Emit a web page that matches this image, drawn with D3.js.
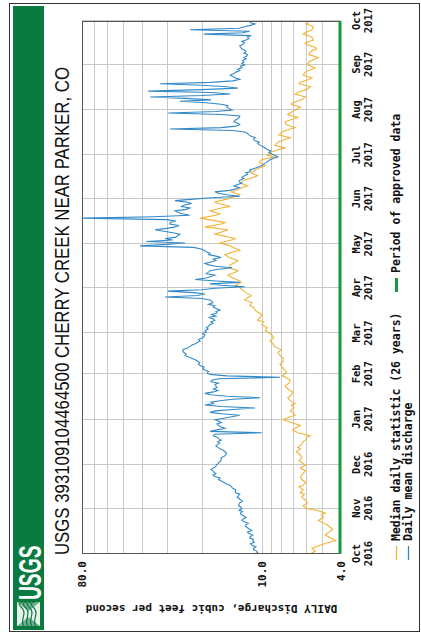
<!DOCTYPE html>
<html>
<head>
<meta charset="utf-8">
<script src="https://cdn.jsdelivr.net/npm/d3@7"></script>
<style>
  html, body { margin: 0; padding: 0; background: #fff; }
  svg { display: block; }
</style>
</head>
<body>
<svg id="chart" width="421" height="636"></svg>
<script>
// ---- data -------------------------------------------------------------
const stationTitle = "USGS 393109104464500 CHERRY CREEK NEAR PARKER, CO";
const yAxisTitle = "DAILY Discharge, cubic feet per second";
const periodStart = "2016-10-01";
const periodEnd = "2017-10-01";
const monthLabels = ["Oct 2016", "Nov 2016", "Dec 2016", "Jan 2017", "Feb 2017", "Mar 2017",
  "Apr 2017", "May 2017", "Jun 2017", "Jul 2017", "Aug 2017", "Sep 2017", "Oct 2017"];
const valueTicks = [4, 10, 80];
const valueGrid = [5, 6, 7, 8, 9, 10, 20, 30, 40, 50, 60, 70];
const legendLabels = ["Median daily statistic (26 years)", "Daily mean discharge", "Period of approved data"];

// daily mean discharge, [day of water year, cfs]
const dailyMean = [
  [0,10.8],[1,10.5],[2,10.6],[3,11.0],[4,11.0],[5,10.7],[6,11.2],[7,11.4],[8,10.9],[9,11.1],
  [10,11.0],[11,11.5],[12,11.4],[13,11.1],[14,11.6],[15,11.8],[16,11.2],[17,11.5],[18,11.8],[19,12.1],
  [20,12.0],[21,11.7],[22,12.2],[23,12.6],[24,12.4],[25,12.0],[26,12.3],[27,12.7],[28,12.8],[29,12.5],
  [30,13.0],[31,12.6],[32,12.7],[33,13.1],[35,12.9],[36,12.5],[38,13.0],[39,13.3],[41,12.9],[42,13.6],
  [44,13.5],[45,14.0],[47,14.4],[48,15.0],[49,15.5],[50,16.0],[51,16.5],[52,16.2],[53,17.2],[54,17.6],
  [55,17.0],[56,17.4],[57,17.6],[58,18.0],[59,17.4],[60,17.0],[61,16.9],[62,16.5],[63,16.4],[64,16.0],
  [66,16.0],[67,15.4],[69,15.0],[70,15.3],[71,15.6],[72,16.2],[73,16.6],[74,17.0],[76,16.3],[77,16.6],
  [78,16.0],[79,16.5],[80,16.8],[81,17.5],[82,17.2],[83,10.0],[84,18.2],[85,16.8],[86,15.3],[87,16.0],
  [88,16.5],[89,16.8],[90,16.0],[91,16.5],[92,17.2],[93,15.5],[95,12.9],[96,16.0],[97,18.2],[98,17.0],
  [99,14.0],[100,10.8],[101,16.0],[102,19.3],[103,17.5],[104,18.0],[105,16.2],[106,14.0],[107,10.2],[108,15.0],
  [109,18.0],[110,19.3],[111,17.5],[112,16.6],[113,17.5],[114,16.8],[116,17.2],[117,16.5],[118,18.0],[119,17.8],
  [120,16.5],[121,8.1],[122,15.0],[123,18.2],[124,18.8],[125,18.5],[126,19.3],[127,19.8],[128,19.5],[129,20.4],
  [130,20.8],[131,20.5],[132,21.0],[133,21.6],[134,22.5],[135,23.5],[136,24.3],[137,24.0],[138,24.6],[139,25.0],
  [140,24.8],[141,23.6],[142,23.0],[143,22.5],[144,21.6],[145,21.0],[146,20.4],[147,20.8],[148,19.8],[149,19.5],
  [150,19.3],[151,19.8],[152,19.0],[153,19.3],[154,18.6],[155,19.0],[156,18.5],[157,18.2],[158,17.6],[159,18.0],
  [160,17.2],[161,17.5],[162,18.5],[163,17.0],[164,17.8],[165,16.8],[166,17.0],[167,16.2],[168,16.8],[169,17.5],
  [170,17.2],[171,18.5],[172,17.6],[173,17.8],[174,18.2],[175,20.0],[176,30.6],[177,21.0],[178,19.3],[179,22.0],
  [180,29.7],[181,20.0],[182,17.2],[183,12.2],[184,16.0],[185,18.2],[186,12.9],[187,17.0],[188,21.6],[189,19.0],
  [190,18.0],[191,17.2],[192,19.0],[193,18.5],[194,18.2],[195,16.5],[196,14.1],[197,17.0],[198,18.5],[199,19.3],
  [200,18.0],[201,17.0],[202,17.5],[203,16.0],[204,17.0],[205,18.5],[206,18.2],[207,19.0],[208,19.5],[209,20.4],
  [210,22.0],[211,40.9],[212,30.0],[213,24.3],[214,38.0],[215,28.0],[216,30.6],[217,27.0],[218,26.5],[219,25.8],
  [220,28.0],[221,31.0],[222,34.4],[223,30.0],[224,27.3],[225,26.0],[226,29.0],[227,28.9],[228,27.0],[229,30.0],
  [230,79.0],[231,35.0],[232,23.0],[233,25.0],[234,26.5],[235,27.3],[236,24.0],[237,23.0],[238,25.5],[239,24.3],
  [240,22.5],[241,24.0],[242,27.3],[243,22.0],[244,18.0],[245,12.9],[246,15.0],[247,16.5],[248,17.2],[249,14.5],
  [250,13.6],[251,13.0],[252,13.8],[253,13.2],[254,12.6],[255,13.0],[256,12.9],[257,12.3],[258,12.6],[259,12.2],
  [260,11.8],[261,12.0],[262,11.4],[263,11.5],[264,10.9],[265,10.4],[266,10.0],[267,9.8],[268,9.5],[269,9.3],
  [270,9.1],[271,8.7],[272,8.3],[273,8.6],[274,8.9],[275,9.2],[276,9.0],[277,9.4],[278,9.6],[279,9.9],
  [280,10.2],[281,10.5],[282,10.3],[283,10.8],[284,11.0],[285,10.8],[286,11.3],[287,11.6],[288,11.8],[289,12.2],
  [290,14.0],[291,28.9],[292,16.0],[293,13.5],[294,12.9],[295,13.2],[296,13.8],[297,13.6],[298,13.2],[299,13.0],
  [300,12.9],[301,16.0],[302,29.5],[303,17.0],[304,14.1],[305,14.5],[306,15.0],[307,14.8],[308,16.0],[309,19.0],
  [310,25.8],[311,18.0],[312,24.0],[313,36.4],[314,20.0],[315,14.4],[316,18.0],[317,37.2],[318,20.0],[319,13.2],
  [320,15.0],[321,20.0],[322,32.4],[323,18.0],[324,14.0],[325,12.9],[326,13.5],[327,14.0],[328,14.4],[329,13.8],
  [330,13.5],[331,12.9],[332,13.2],[333,12.6],[334,12.8],[335,12.2],[336,12.6],[337,12.3],[338,12.5],[339,12.0],
  [340,12.3],[341,11.9],[342,11.8],[343,12.3],[344,12.0],[345,12.2],[346,12.6],[347,12.8],[348,12.9],[349,12.4],
  [350,12.2],[351,12.6],[352,12.0],[353,11.6],[354,11.8],[355,11.3],[356,19.5],[357,12.5],[358,11.5],[359,23.0],
  [360,13.0],[361,12.2],[362,11.4],[363,10.8],[364,11.5]
];

// median of daily means over 26 years, [day of water year, cfs]
const dailyMedian = [
  [0,5.7],[2,5.4],[4,5.6],[6,5.1],[8,4.6],[9,4.25],[11,4.5],[13,4.8],[15,4.6],[17,4.4],
  [18,4.5],[20,4.7],[22,5.0],[23,5.2],[25,4.9],[27,5.0],[28,4.8],[30,5.3],[31,5.9],[33,6.2],
  [35,5.9],[37,6.05],[39,6.3],[41,6.1],[42,6.4],[44,6.2],[46,6.5],[47,6.2],[49,6.0],[51,6.3],
  [53,6.4],[55,6.2],[57,6.05],[59,6.4],[61,6.0],[62,6.2],[64,6.5],[66,6.3],[68,6.4],[70,6.7],
  [72,6.4],[73,6.6],[75,6.3],[77,6.2],[78,6.05],[80,5.9],[81,5.7],[83,6.6],[85,7.0],[87,6.6],
  [88,6.4],[90,7.1],[92,7.8],[94,7.2],[95,6.8],[97,7.0],[98,7.2],[100,6.9],[102,7.1],[103,6.8],
  [105,7.2],[107,7.4],[109,7.1],[111,7.0],[113,7.4],[115,7.65],[117,7.3],[119,7.2],[121,7.6],[122,7.9],
  [124,7.5],[126,7.65],[128,7.9],[130,8.1],[132,7.8],[134,7.8],[136,8.1],[138,8.3],[140,8.0],[142,8.6],
  [144,8.8],[146,9.1],[148,8.7],[150,8.9],[152,9.3],[153,9.6],[155,9.4],[157,10.0],[159,9.8],[160,10.5],
  [162,10.2],[164,10.0],[166,10.6],[167,10.8],[169,11.0],[170,11.5],[172,11.2],[174,12.2],[176,11.6],[177,11.3],
  [179,12.0],[181,12.6],[183,13.0],[184,13.6],[186,12.7],[187,12.9],[189,14.0],[191,14.8],[193,13.6],[194,13.2],
  [196,14.5],[198,14.4],[200,13.5],[201,13.2],[203,14.6],[205,15.3],[207,13.8],[208,12.9],[210,14.0],[211,14.4],
  [213,16.2],[215,14.2],[216,13.6],[218,15.8],[219,17.2],[221,15.5],[222,14.8],[224,19.3],[226,16.0],[227,15.3],
  [229,18.5],[230,20.4],[232,17.0],[233,16.2],[235,18.2],[237,16.0],[238,14.4],[240,16.5],[241,17.2],[243,15.0],
  [244,14.4],[245,13.5],[246,12.9],[248,14.2],[249,13.6],[251,12.5],[252,11.8],[254,12.8],[256,12.2],[258,11.0],
  [259,10.5],[261,11.3],[263,10.8],[265,10.0],[266,9.6],[268,10.3],[270,10.0],[272,8.6],[273,9.4],[275,9.1],
  [277,8.2],[278,7.65],[280,8.6],[282,8.3],[284,7.6],[285,7.2],[287,8.2],[289,7.9],[291,7.2],[292,6.8],
  [294,7.5],[296,7.65],[298,6.9],[299,6.6],[301,7.4],[302,7.2],[304,6.8],[306,6.4],[308,7.1],[309,7.0],
  [311,6.3],[313,6.05],[315,6.8],[316,6.6],[318,6.0],[320,5.7],[322,6.5],[323,6.4],[325,5.8],[326,5.6],
  [328,6.2],[330,6.05],[332,5.6],[333,5.4],[335,5.9],[337,5.8],[339,5.4],[340,5.2],[342,5.8],[344,5.7],
  [346,5.3],[347,5.4],[349,6.0],[350,6.05],[352,5.5],[354,5.6],[356,6.2],[357,6.05],[359,5.6],[361,5.5],
  [363,6.0],[364,5.8]
];

// ---- layout -----------------------------------------------------------
// The graph is composed on a 636 x 421 sheet and then turned a quarter
// turn counter-clockwise onto the 421 x 636 page.
const sheetW = 636, sheetH = 421;
const plot = { left: 82, right: 615, top: 82, bottom: 341 };
const monoFont = "'DejaVu Sans Mono', 'Liberation Mono', monospace";
const blue = "#3189c8", gold = "#f3b236", green = "#159a3c";

const svg = d3.select("#chart");
const sheet = svg.append("g").attr("transform", `translate(0,${sheetW}) rotate(-90)`);

const parseDay = d3.utcParse("%Y-%m-%d");
const start = parseDay(periodStart), end = parseDay(periodEnd);
const x = d3.scaleUtc().domain([start, end]).range([plot.left, plot.right]);
const y = d3.scaleLog().domain([4, 80]).range([plot.bottom, plot.top]);
const dayToDate = d => d3.utcDay.offset(start, d);

// page frame
svg.append("rect")
  .attr("x", 9.5).attr("y", 3.5).attr("width", 410).attr("height", 628)
  .attr("fill", "none").attr("stroke", "#333").attr("stroke-width", 1);

// USGS banner
sheet.append("rect")
  .attr("x", 6).attr("y", 13).attr("width", 624).attr("height", 31)
  .attr("fill", "#0b7a41");

// emblem: white tile crossed by wavy water lines
const emblem = sheet.append("g").attr("transform", "translate(10,17)");
emblem.append("rect").attr("width", 24).attr("height", 23).attr("fill", "#e8f2ec");
[5, 9, 13, 17].forEach(o => {
  emblem.append("path")
    .attr("d", `M0,${o + 2} C6,${o - 3} 12,${o + 6} 18,${o} S23,${o - 1} 24,${o + 1}`)
    .attr("fill", "none").attr("stroke", "#0b7a41").attr("stroke-width", 1.2);
});
emblem.append("path")
  .attr("d", "M0,0 L9,11.5 L0,23 Z M24,0 L15,11.5 L24,23 Z")
  .attr("fill", "#0b7a41").attr("opacity", 0.55);

sheet.append("text")
  .attr("transform", "translate(36,41) scale(0.62,1)")
  .attr("font-family", "'Liberation Sans', Arial, sans-serif")
  .attr("font-weight", "bold").attr("font-size", 31)
  .attr("fill", "#fff").text("USGS");

// title, set in a condensed cut of the sans face
sheet.append("text")
  .attr("transform", "translate(81,69) scale(0.84,1)")
  .attr("font-family", "'Liberation Sans', Arial, sans-serif")
  .attr("font-size", 20)
  .attr("fill", "#111").text(stationTitle);

// grid
const months = x.ticks(d3.utcMonth.every(1));
const grid = sheet.append("g").attr("stroke", "#c8c8c8").attr("stroke-width", 1);
grid.selectAll("line.v").data(months).join("line")
  .attr("x1", d => Math.round(x(d)) + 0.5).attr("x2", d => Math.round(x(d)) + 0.5)
  .attr("y1", plot.top).attr("y2", plot.bottom);
grid.selectAll("line.h").data(valueGrid).join("line")
  .attr("x1", plot.left).attr("x2", plot.right)
  .attr("y1", d => Math.round(y(d)) + 0.5).attr("y2", d => Math.round(y(d)) + 0.5);

// series
const line = d3.line()
  .x(d => x(dayToDate(d[0])))
  .y(d => y(d[1]));

sheet.append("path").datum(dailyMedian)
  .attr("d", line).attr("fill", "none")
  .attr("stroke", gold).attr("stroke-width", 1.1);

sheet.append("path").datum(dailyMean)
  .attr("d", line).attr("fill", "none")
  .attr("stroke", blue).attr("stroke-width", 1.1);

// plot frame and approved-data bar
sheet.append("rect")
  .attr("x", plot.left + 0.5).attr("y", plot.top + 0.5)
  .attr("width", plot.right - plot.left - 1).attr("height", plot.bottom - plot.top - 1)
  .attr("fill", "none").attr("stroke", "#555");
sheet.append("line")
  .attr("x1", x(start)).attr("x2", x(end))
  .attr("y1", plot.bottom - 1).attr("y2", plot.bottom - 1)
  .attr("stroke", green).attr("stroke-width", 3);

// value axis
const yAxis = d3.axisLeft(y).tickValues(valueTicks).tickFormat(d3.format(".1f")).tickSize(0).tickPadding(7);
const yAxisG = sheet.append("g").attr("transform", `translate(${plot.left},0)`).call(yAxis);
yAxisG.select(".domain").remove();
yAxisG.selectAll("text")
  .attr("font-family", monoFont).attr("font-weight", "bold")
  .attr("font-size", 11).attr("fill", "#111");

sheet.append("text")
  .attr("transform", `translate(31,${(plot.top + plot.bottom) / 2}) rotate(-90)`)
  .attr("text-anchor", "middle")
  .attr("font-family", monoFont).attr("font-weight", "bold").attr("font-size", 11)
  .attr("fill", "#111").text(yAxisTitle);

// date axis
const xAxis = d3.axisBottom(x).tickValues(months).tickSize(0).tickFormat(() => "");
const xAxisG = sheet.append("g").attr("transform", `translate(0,${plot.bottom})`).call(xAxis);
xAxisG.select(".domain").remove();
xAxisG.selectAll(".tick text")
  .attr("font-family", monoFont).attr("font-weight", "bold").attr("font-size", 10.5)
  .attr("fill", "#111").attr("dy", null).attr("y", 0)
  .each(function (d, i) {
    const [m, yr] = monthLabels[i].split(" ");
    const t = d3.select(this);
    t.append("tspan").attr("x", 0).attr("y", 19).text(m);
    t.append("tspan").attr("x", 0).attr("y", 31).text(yr);
  });

// legend
const legend = sheet.append("g")
  .attr("font-family", monoFont).attr("font-weight", "bold").attr("font-size", 11.5)
  .attr("fill", "#111");
const legendRows = [
  { x: 76, y: 400, color: gold, w: 1.3, label: legendLabels[0] },
  { x: 76, y: 412, color: blue, w: 1.3, label: legendLabels[1] },
  { x: 344, y: 400, color: green, w: 3, label: legendLabels[2] }
];
legendRows.forEach(r => {
  legend.append("line").attr("x1", r.x).attr("x2", r.x + 14)
    .attr("y1", r.y - 3.5).attr("y2", r.y - 3.5)
    .attr("stroke", r.color).attr("stroke-width", r.w);
  legend.append("text").attr("x", r.x + 19).attr("y", r.y).text(r.label);
});
</script>
</body>
</html>
